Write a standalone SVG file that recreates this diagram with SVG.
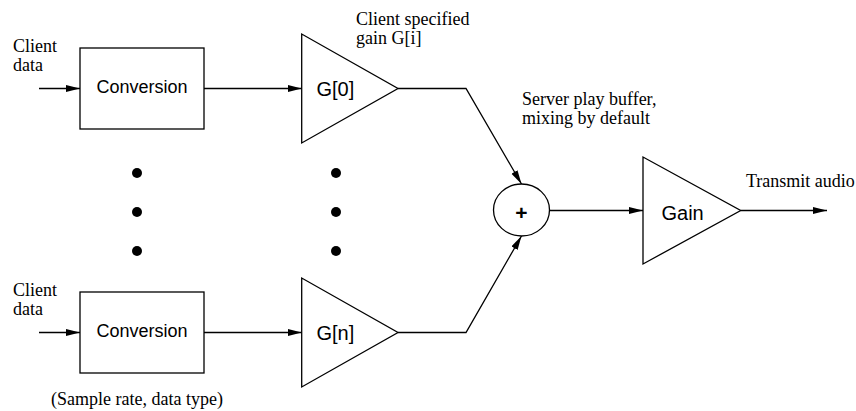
<svg xmlns="http://www.w3.org/2000/svg" width="856" height="411" viewBox="0 0 856 411">
<defs>
<marker id="arr" markerUnits="userSpaceOnUse" markerWidth="15" markerHeight="8" refX="14" refY="3.5" orient="auto">
<path d="M0,0 L14,3.5 L0,7 z" fill="#000"/>
</marker>
<style>
.shape{fill:#fff;stroke:#000;stroke-width:1.3}
.line{fill:none;stroke:#000;stroke-width:1.3;marker-end:url(#arr)}
.serif{font-family:"Liberation Serif","Times New Roman",serif;font-size:18px;fill:#000}
.sans{font-family:"Liberation Sans",Arial,sans-serif;fill:#000}
.dot{fill:#000}
</style>
</defs>
<rect width="856" height="411" fill="#fff"/>
<g id="connectors">
<line class="line" x1="39" y1="88.5" x2="80" y2="88.5"/>
<line class="line" x1="204" y1="88.5" x2="301.7" y2="88.5"/>
<polyline class="line" points="398,88.5 466,88.5 521.5,184"/>
<line class="line" x1="39" y1="332.5" x2="80" y2="332.5"/>
<line class="line" x1="204" y1="332.5" x2="301.7" y2="332.5"/>
<polyline class="line" points="398,332.5 466,332.5 521.5,236"/>
<line class="line" x1="549.5" y1="210.5" x2="643" y2="210.5"/>
<line class="line" x1="740.7" y1="210.5" x2="827" y2="210.5"/>
</g>
<g id="conv1">
<rect class="shape" x="80" y="48" width="124" height="81"/>
<text class="sans" x="142" y="92.5" font-size="18" text-anchor="middle">Conversion</text>
</g>
<g id="conv2">
<rect class="shape" x="80" y="292" width="124" height="81"/>
<text class="sans" x="142" y="336.5" font-size="18" text-anchor="middle">Conversion</text>
</g>
<g id="g0">
<polygon class="shape" points="301.7,34 301.7,143 398,88.5"/>
<text class="sans" x="316.5" y="96" font-size="20">G[0]</text>
</g>
<g id="gn">
<polygon class="shape" points="301.7,278 301.7,387 398,332.5"/>
<text class="sans" x="316.5" y="340" font-size="20">G[n]</text>
</g>
<g id="sum">
<ellipse class="shape" cx="521.5" cy="210" rx="28" ry="26"/>
<text class="sans" x="521.5" y="220" font-size="21" font-weight="bold" text-anchor="middle">+</text>
</g>
<g id="gain">
<polygon class="shape" points="643,157 643,264 740.7,210.5"/>
<text class="sans" x="661.5" y="220" font-size="20">Gain</text>
</g>
<g id="dots">
<circle class="dot" cx="137" cy="173" r="5"/>
<circle class="dot" cx="137" cy="212" r="5"/>
<circle class="dot" cx="137" cy="251" r="5"/>
<circle class="dot" cx="336" cy="173" r="5"/>
<circle class="dot" cx="336" cy="212" r="5"/>
<circle class="dot" cx="336" cy="251" r="5"/>
</g>
<g id="labels">
<text class="serif" x="13" y="52">Client</text>
<text class="serif" x="13" y="71">data</text>
<text class="serif" x="13" y="296">Client</text>
<text class="serif" x="13" y="315">data</text>
<text class="serif" x="356" y="25">Client specified</text>
<text class="serif" x="356" y="44">gain G[i]</text>
<text class="serif" x="522" y="105">Server play buffer,</text>
<text class="serif" x="522" y="124">mixing by default</text>
<text class="serif" x="746" y="187">Transmit audio</text>
<text class="serif" x="51" y="405">(Sample rate, data type)</text>
</g>
</svg>
